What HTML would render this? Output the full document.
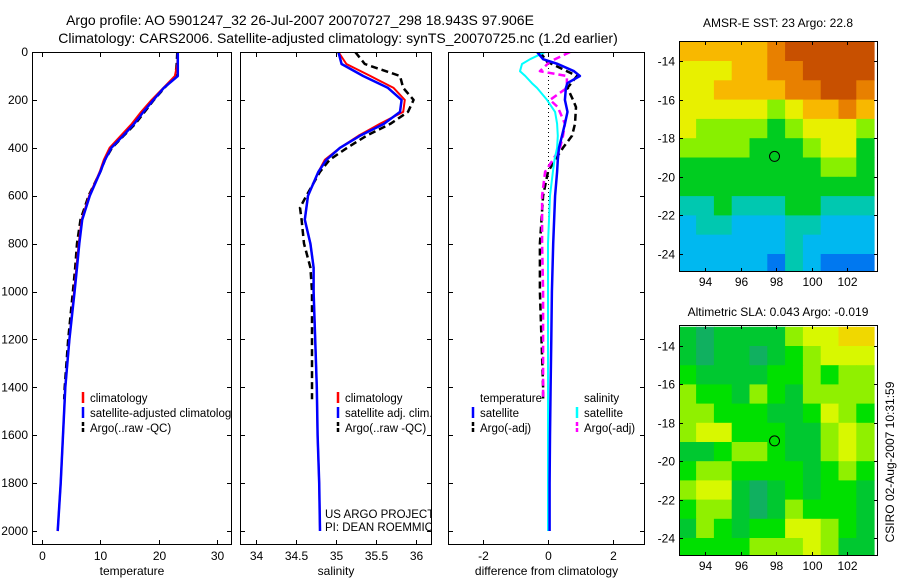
<!DOCTYPE html>
<html><head><meta charset="utf-8">
<style>
html,body{margin:0;padding:0;background:#fff;}
svg{display:block;font-family:"Liberation Sans",sans-serif;}
</style></head>
<body>
<svg id="fig" width="900" height="580" viewBox="0 0 900 580" xmlns="http://www.w3.org/2000/svg">
<text x="300" y="25" font-size="14" text-anchor="middle">Argo profile: AO 5901247_32 26-Jul-2007 20070727_298 18.943S 97.906E</text>
<text x="338" y="43" font-size="14" text-anchor="middle">Climatology: CARS2006. Satellite-adjusted climatology: synTS_20070725.nc (1.2d earlier)</text>
<text x="778" y="27" font-size="12" text-anchor="middle">AMSR-E SST: 23 Argo: 22.8</text>
<text x="778" y="316" font-size="12" text-anchor="middle">Altimetric SLA: 0.043 Argo: -0.019</text>
<text transform="translate(894,462) rotate(-90)" font-size="12" text-anchor="middle">CSIRO 02-Aug-2007 10:31:59</text>
<g id="g"></g>
</svg>
<script>
// ---- data ----
const depthsClim = [0,50,100,150,200,250,300,350,400,450,500,600,700,800,900,1000,1200,1400,1600,1800,2000];
const tempClim   = [23.3,23.2,22.8,20.8,18.8,17.0,15.4,13.5,11.6,10.6,9.9,8.1,6.8,6.3,5.9,5.5,4.7,4.0,3.6,3.2,2.7];
const tempSat    = [23.3,23.3,23.3,20.9,19.1,17.4,15.8,13.9,11.9,10.8,10.0,8.2,6.9,6.4,6.0,5.6,4.7,4.0,3.6,3.2,2.7];
const depthsArgo = [0,50,100,150,200,250,300,350,400,450,500,600,650,700,800,900,1000,1200,1400,1450];
const tempArgo   = [23.2,23.1,22.9,21.0,19.2,17.6,16.0,14.0,12.0,10.8,10.0,8.0,7.3,6.6,6.0,5.7,5.3,4.5,3.9,3.8];
const salClim    = [35.03,35.13,35.43,35.72,35.86,35.84,35.55,35.28,35.05,34.86,34.78,34.65,34.61,34.68,34.72,34.72,34.74,34.76,34.77,34.79,34.8];
const salSat     = [35.03,35.07,35.34,35.65,35.82,35.8,35.6,35.3,35.05,34.88,34.78,34.65,34.61,34.68,34.72,34.72,34.74,34.76,34.77,34.79,34.8];
const salArgo    = [35.24,35.36,35.8,35.84,35.97,35.9,35.68,35.38,35.14,34.92,34.8,34.63,34.55,34.57,34.6,34.68,34.7,34.7,34.7,34.7];
const depthsDiff = [0,30,50,80,100,130,150,200,250,300,350,400,450,500,600,800,1000,1200,1400,1600,1800,2000];
const dTempSat   = [-0.34,-0.15,0.3,0.8,0.98,0.6,0.55,0.52,0.6,0.52,0.43,0.34,0.3,0.28,0.22,0.16,0.12,0.1,0.08,0.06,0.05,0.05];
const dSalSat    = [-0.09,-0.55,-0.8,-0.86,-0.7,-0.5,-0.34,-0.03,0.22,0.28,0.3,0.28,0.2,0.15,0.06,0.0,0.0,0.0,0.0,0.0,0.0,0.0];
const depthsDiffArgo = [0,40,80,100,150,200,230,300,350,400,450,500,600,800,1000,1200,1400,1450];
const dTempArgo  = [-0.25,-0.03,0.58,0.89,0.6,0.77,0.86,0.83,0.74,0.46,0.22,0.0,-0.15,-0.25,-0.25,-0.2,-0.15,-0.15];
const dSalArgo   = [0.68,0.06,-0.25,0.58,0.58,0.06,0.3,0.52,0.46,0.37,0.15,-0.09,-0.18,-0.18,-0.15,-0.15,-0.15,-0.15];
const depthTicks = [0,200,400,600,800,1000,1200,1400,1600,1800,2000];
const tempTicks = [0,10,20,30];
const salTicks = [34,34.5,35,35.5,36];
const diffTicks = [-2,0,2];
const lonTicks = [94,96,98,100,102];
const latTicks = [-14,-16,-18,-20,-22,-24];
const mapLons = [92.5,93.5,94.5,95.5,96.5,97.5,98.5,99.5,100.5,101.5,102.5];
const mapLats = [-13,-14,-15,-16,-17,-18,-19,-20,-21,-22,-23,-24];
const sstLevels = [
[6,6,6,6,6,7,8,8,8,8,8],
[5,5,5,6,6,7,7,8,8,8,8],
[5,5,6,6,6,6,7,7,8,8,7],
[5,5,5,5,5,4,5,6,6,7,6],
[5,4,4,4,4,3,4,5,5,5,4],
[4,4,4,4,3,3,3,4,5,5,3],
[3,3,3,3,3,3,3,3,4,4,3],
[3,3,3,3,3,3,3,3,3,3,3],
[2,2,3,2,2,2,3,3,2,2,2],
[1,2,2,1,1,1,2,2,1,1,1],
[1,1,1,1,1,1,2,1,1,1,1],
[1,1,1,1,1,0,2,1,0,0,0]];
const slaLevels = [
[1,0,1,1,1,1,3,4,4,5,5],
[1,0,1,1,0,1,2,3,4,4,4],
[2,1,1,1,1,2,2,3,2,3,3],
[3,2,2,1,3,2,1,3,3,3,3],
[3,3,2,2,2,1,1,2,4,3,2],
[3,4,4,2,2,2,1,1,3,4,3],
[1,1,2,3,3,2,1,1,3,4,3],
[2,3,3,2,2,2,2,1,2,3,2],
[3,4,4,1,0,1,2,1,2,2,1],
[2,3,3,1,0,1,3,2,2,2,1],
[1,3,2,1,2,2,4,4,3,2,1],
[2,2,2,2,3,3,3,4,3,1,1]];
const floatLon = 97.906, floatLat = -18.943;

// ---- drawing ----
const NS="http://www.w3.org/2000/svg";
const G=document.getElementById('g');
function el(tag,attrs,parent){const e=document.createElementNS(NS,tag);for(const k in attrs)e.setAttribute(k,attrs[k]);(parent||G).appendChild(e);return e;}
const PT=52, PB=545;
const yD=d=>52+d*0.2395;
const panels=[
 {name:'temperature',x0:32,x1:232,sx:v=>42+5.83*v,ticks:tempTicks,label:'temperature'},
 {name:'salinity',x0:240,x1:432,sx:v=>256+80*(v-34),ticks:salTicks,label:'salinity'},
 {name:'difference',x0:448,x1:645,sx:v=>548+32.5*v,ticks:diffTicks,label:'difference from climatology'}];
panels.forEach((p,i)=>{
  const cp=el('clipPath',{id:'cp'+i});el('rect',{x:p.x0,y:PT,width:p.x1-p.x0,height:PB-PT},cp);
  p.g=el('g',{'clip-path':'url(#cp'+i+')'});
  
  
  const fr=el('rect',{x:p.x0+.5,y:PT+.5,width:p.x1-p.x0-1,height:PB-PT-1,fill:'none',stroke:'#000','stroke-width':1});
  
  
  p.ticks.forEach(t=>{const x=Math.round(p.sx(t))+.5;
    el('line',{x1:x,x2:x,y1:PT,y2:PT+5,stroke:'#000'});el('line',{x1:x,x2:x,y1:PB-5,y2:PB,stroke:'#000'});
    const tx=el('text',{x:x,y:PB+15,'font-size':12,'text-anchor':'middle'});tx.textContent=String(t);
    
    });
  depthTicks.forEach(d=>{const y=Math.round(yD(d))+.5;
    el('line',{x1:p.x0,x2:p.x0+5,y1:y,y2:y,stroke:'#000'});el('line',{x1:p.x1-5,x2:p.x1,y1:y,y2:y,stroke:'#000'});});
  const xl=el('text',{x:(p.x0+p.x1)/2,y:575,'font-size':12,'text-anchor':'middle'});xl.textContent=p.label;
  
  
});
depthTicks.forEach(d=>{const t=el('text',{x:28,y:yD(d)+4,'font-size':12,'text-anchor':'end'});t.textContent=String(d);
  
  });
el('line',{x1:548.5,x2:548.5,y1:PT,y2:yD(1450),stroke:'#000','stroke-dasharray':'1,3','stroke-width':1},panels[2].g);
function line(p,xs,ds,color,w,dash,name){
  const pts=xs.map((v,i)=>p.sx(v).toFixed(1)+','+yD(ds[i]).toFixed(1)).join(' ');
  const a={points:pts,fill:'none',stroke:color,'stroke-width':w,'stroke-linejoin':'round'};
  if(dash)a['stroke-dasharray']=dash;
  const l=el('polyline',a,p.g);
  
  
}
const P0=panels[0],P1=panels[1],P2=panels[2];
line(P0,tempArgo,depthsArgo,'#000',2.5,'7,4','temp-argo-line');
line(P0,tempClim,depthsClim,'#f00',2,null,'temp-climatology-line');
line(P0,tempSat,depthsClim,'#00f',2.5,null,'temp-satellite-line');
line(P1,salArgo,depthsArgo,'#000',2.5,'7,4','sal-argo-line');
line(P1,salClim,depthsClim,'#f00',2,null,'sal-climatology-line');
line(P1,salSat,depthsClim,'#00f',2.5,null,'sal-satellite-line');
line(P2,dTempArgo,depthsDiffArgo,'#000',2.5,'7,4','diff-temp-argo-line');
line(P2,dSalArgo,depthsDiffArgo,'#f0f',2.5,'7,4','diff-sal-argo-line');
line(P2,dSalSat,depthsDiff,'#0ff',2,null,'diff-sal-satellite-line');
line(P2,dTempSat,depthsDiff,'#00f',2.5,null,'diff-temp-satellite-line');
// legends
function legend(p,x,y,color,dash,text,name){
  if(color){const m=el('line',{x1:x,x2:x,y1:y-10,y2:y+1,stroke:color,'stroke-width':2.5},p.g);if(dash)m.setAttribute('stroke-dasharray','4,2');
    
    }
  const t=el('text',{x:x+7,y:y,'font-size':11.5},p.g);t.textContent=text;
  
  
}
legend(P0,83,402,'#f00',0,'climatology','legend-climatology');
legend(P0,83,417,'#00f',0,'satellite-adjusted climatology','legend-satellite-adjusted');
legend(P0,83,432,'#000',1,'Argo(..raw -QC)','legend-argo');
legend(P1,338,402,'#f00',0,'climatology','legend-sal-climatology');
legend(P1,338,417,'#00f',0,'satellite adj. clim.','legend-sal-satellite');
legend(P1,338,432,'#000',1,'Argo(..raw -QC)','legend-sal-argo');
legend(P2,473,402,null,0,'temperature','legend-temperature-heading');
legend(P2,473,417,'#00f',0,'satellite','legend-temp-satellite');
legend(P2,473,432,'#000',1,'Argo(-adj)','legend-temp-argo');
legend(P2,577,402,null,0,'salinity','legend-salinity-heading');
legend(P2,577,417,'#0ff',0,'satellite','legend-sal-satellite-diff');
legend(P2,577,432,'#f0f',1,'Argo(-adj)','legend-sal-argo-diff');
const c1=el('text',{x:325,y:518,'font-size':11.5},P1.g);c1.textContent='US ARGO PROJECT';


const c2=el('text',{x:325,y:531,'font-size':11.5},P1.g);c2.textContent='PI: DEAN ROEMMICH';


// maps
const sstPal=['#0078f0','#00b8f0','#00c8b0','#00cc20','#88f000','#e8f000','#f8b800','#e88000','#c85000'];
const slaPal=['#10b060','#00c830','#00e000','#90f000','#d8f800','#f0d800'];
function map(name,x0,x1,yTop,yBot,lat14,pxLat,levels,pal){
  const sx=lon=>705+(lon-94)*17.8;
  const sy=lat=>lat14+(-14-lat)*pxLat;
  const cp=el('clipPath',{id:'cp'+name});el('rect',{x:x0,y:yTop,width:x1-x0,height:yBot-yTop},cp);
  const g=el('g',{'clip-path':'url(#cp'+name+')'});
  
  
  levels.forEach((row,r)=>row.forEach((v,c)=>{
    const x=sx(mapLons[c]),y=sy(mapLats[r]);
    const cell=el('rect',{x:x.toFixed(1),y:y.toFixed(1),width:18.3,height:(pxLat+0.5).toFixed(1),fill:pal[v]},g);
    
    
  }));
  const ci=el('circle',{cx:sx(floatLon),cy:sy(floatLat),r:5,fill:'none',stroke:'#000','stroke-width':1},g);
  
  
  const fr=el('rect',{x:x0+.5,y:yTop+.5,width:x1-x0-1,height:yBot-yTop-1,fill:'none',stroke:'#000'});
  
  
  lonTicks.forEach(l=>{const x=Math.round(sx(l))+.5;
    el('line',{x1:x,x2:x,y1:yTop,y2:yTop+4,stroke:'#000'});el('line',{x1:x,x2:x,y1:yBot-4,y2:yBot,stroke:'#000'});
    const t=el('text',{x:x,y:yBot+14,'font-size':12,'text-anchor':'middle'});t.textContent=String(l);
    
    });
  latTicks.forEach(l=>{const y=Math.round(sy(l))+.5;
    el('line',{x1:x0,x2:x0+4,y1:y,y2:y,stroke:'#000'});el('line',{x1:x1-4,x2:x1,y1:y,y2:y,stroke:'#000'});
    const t=el('text',{x:x0-4,y:y+4,'font-size':12,'text-anchor':'end'});t.textContent=String(l);
    
    });
}
map('sst',679,878,41,272,61,19.3,sstLevels,sstPal);
map('sla',679,878,325,556,346,19.2,slaLevels,slaPal);
</script>
</body></html>
